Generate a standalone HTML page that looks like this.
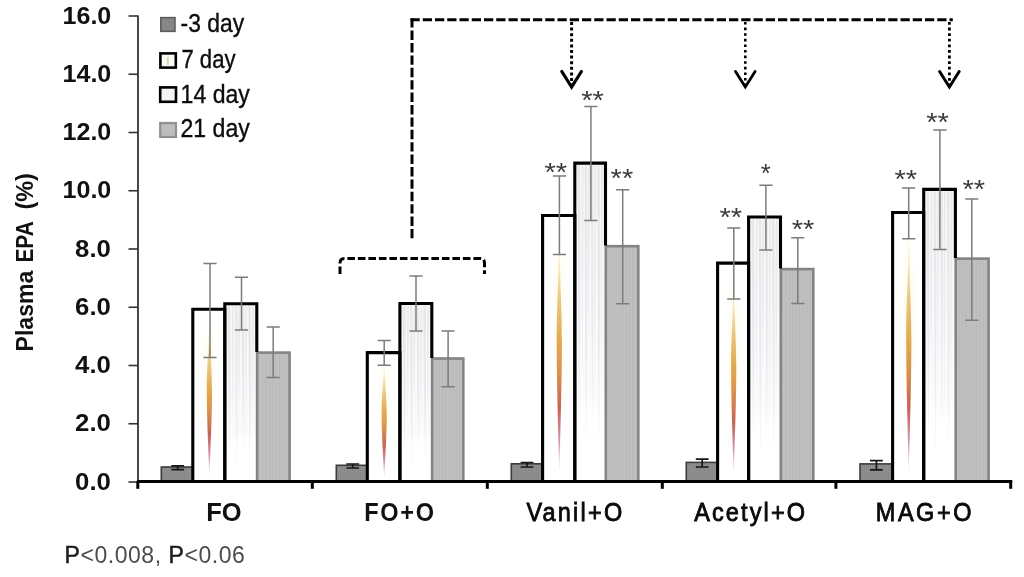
<!DOCTYPE html>
<html><head><meta charset="utf-8"><title>Plasma EPA chart</title>
<style>html,body{margin:0;padding:0;background:#fff;}body{width:1024px;height:577px;overflow:hidden;position:relative;font-family:"Liberation Sans", sans-serif;}svg{position:absolute;left:0;top:0;display:block;filter:blur(0.45px);}text{font-family:"Liberation Sans", sans-serif;}</style>
</head><body>
<svg width="1024" height="577" viewBox="0 0 1024 577">
<defs>
<linearGradient id="flame" x1="0" y1="0" x2="0" y2="1"><stop offset="0" stop-color="#fbefc8" stop-opacity="0"/><stop offset="0.10" stop-color="#f6e2a8" stop-opacity="0.5"/><stop offset="0.28" stop-color="#e6c070" stop-opacity="0.85"/><stop offset="0.45" stop-color="#dfa548" stop-opacity="0.95"/><stop offset="0.58" stop-color="#d68c46" stop-opacity="0.95"/><stop offset="0.72" stop-color="#c45a4c" stop-opacity="0.95"/><stop offset="0.85" stop-color="#c0607a" stop-opacity="0.7"/><stop offset="0.95" stop-color="#c890a8" stop-opacity="0.35"/><stop offset="1" stop-color="#d8b0c0" stop-opacity="0"/></linearGradient>
<filter id="soft" x="-50%" y="-5%" width="200%" height="110%"><feGaussianBlur stdDeviation="0.55"/></filter>
<linearGradient id="glow" x1="0" y1="0" x2="0" y2="1"><stop offset="0" stop-color="#fff6cc" stop-opacity="0"/><stop offset="0.3" stop-color="#fff3c4" stop-opacity="0.2"/><stop offset="0.8" stop-color="#ffefc0" stop-opacity="0.18"/><stop offset="1" stop-color="#ffe8c0" stop-opacity="0"/></linearGradient>
<filter id="soft3" x="-50%" y="-5%" width="200%" height="110%"><feGaussianBlur stdDeviation="1.8 3"/></filter>
<filter id="soft2" x="-20%" y="-5%" width="140%" height="110%"><feGaussianBlur stdDeviation="0.7 1.5"/></filter>
<linearGradient id="streak" x1="0" y1="0" x2="0" y2="1"><stop offset="0" stop-color="#c9c9ce" stop-opacity="0.85"/><stop offset="0.6" stop-color="#cdcfd8" stop-opacity="0.8"/><stop offset="0.9" stop-color="#d0d4e0" stop-opacity="0.6"/><stop offset="1" stop-color="#dce0ea" stop-opacity="0"/></linearGradient>
<pattern id="vlines" width="3.4" height="8" patternUnits="userSpaceOnUse"><rect width="3.4" height="8" fill="#c0c0c0"/><rect x="0" width="1" height="8" fill="#b8b8b8"/></pattern>
<pattern id="dots" width="2" height="2" patternUnits="userSpaceOnUse"><rect width="2" height="2" fill="#8e8e8e"/><rect width="1" height="1" fill="#828282"/></pattern>
</defs>
<rect width="1024" height="577" fill="#ffffff"/>
<rect x="161.3" y="467.0" width="31.5" height="14.4" fill="url(#dots)" stroke="#3c3c3c" stroke-width="1.6"/>
<rect x="192.8" y="309.3" width="32.0" height="172.1" fill="#ffffff"/>
<rect x="203.9" y="317.9" width="11" height="106.7" rx="5" fill="url(#glow)" filter="url(#soft3)"/>
<path d="M209.4 317.9 C208.6 354.1 206.8 368.5 206.8 390.2 C206.8 421.2 208.6 452.3 209.4 478.9 C210.2 452.3 212.0 421.2 212.0 390.2 C212.0 368.5 210.2 354.1 209.4 317.9 Z" fill="url(#flame)" filter="url(#soft)"/>
<rect x="224.8" y="303.7" width="32.0" height="177.8" fill="#ffffff"/>
<rect x="224.8" y="303.7" width="32.0" height="142.2" fill="url(#streak)" opacity="0.16"/>
<g filter="url(#soft2)">
<path d="M227.6 305.2 L230.2 305.2 Q231.0 392.4 229.3 463.7 Q228.4 392.4 227.6 305.2 Z" fill="url(#streak)" opacity="0.42"/>
<path d="M232.1 305.2 L233.9 305.2 Q233.3 372.8 232.7 428.1 Q231.5 372.8 232.1 305.2 Z" fill="url(#streak)" opacity="0.36"/>
<path d="M235.1 305.2 L237.5 305.2 Q238.0 398.2 236.5 474.3 Q235.6 398.2 235.1 305.2 Z" fill="url(#streak)" opacity="0.42"/>
<path d="M238.8 305.2 L240.4 305.2 Q239.7 365.0 239.3 413.9 Q238.1 365.0 238.8 305.2 Z" fill="url(#streak)" opacity="0.45"/>
<path d="M241.7 305.2 L243.9 305.2 Q244.5 390.4 243.1 460.1 Q242.3 390.4 241.7 305.2 Z" fill="url(#streak)" opacity="0.45"/>
<path d="M245.2 305.2 L247.0 305.2 Q246.5 380.6 245.9 442.3 Q244.7 380.6 245.2 305.2 Z" fill="url(#streak)" opacity="0.36"/>
<path d="M248.2 305.2 L250.8 305.2 Q251.5 396.3 249.8 470.8 Q248.9 396.3 248.2 305.2 Z" fill="url(#streak)" opacity="0.42"/>
<path d="M252.1 305.2 L253.9 305.2 Q253.3 374.8 252.7 431.7 Q251.5 374.8 252.1 305.2 Z" fill="url(#streak)" opacity="0.36"/>
</g>
<rect x="257.1" y="352.6" width="32.5" height="128.8" fill="url(#vlines)" stroke="#848484" stroke-width="2.6"/>
<path d="M192.8 481.4 V309.3 H224.8 V481.4" fill="none" stroke="#000" stroke-width="3.1"/>
<path d="M224.8 481.4 V303.7 H256.8 V352.0" fill="none" stroke="#000" stroke-width="3.1"/>
<rect x="336.3" y="465.3" width="31.0" height="16.1" fill="url(#dots)" stroke="#3c3c3c" stroke-width="1.6"/>
<rect x="367.3" y="352.6" width="32.6" height="128.8" fill="#ffffff"/>
<rect x="378.7" y="359.0" width="11" height="79.9" rx="5" fill="url(#glow)" filter="url(#soft3)"/>
<path d="M384.2 359.0 C383.4 386.1 381.6 396.9 381.6 413.2 C381.6 436.4 383.4 459.6 384.2 479.5 C385.0 459.6 386.8 436.4 386.8 413.2 C386.8 396.9 385.0 386.1 384.2 359.0 Z" fill="url(#flame)" filter="url(#soft)"/>
<rect x="399.9" y="303.5" width="31.9" height="177.9" fill="#ffffff"/>
<rect x="399.9" y="303.5" width="31.9" height="142.4" fill="url(#streak)" opacity="0.16"/>
<g filter="url(#soft2)">
<path d="M402.7 305.0 L405.3 305.0 Q406.1 392.3 404.4 463.7 Q403.5 392.3 402.7 305.0 Z" fill="url(#streak)" opacity="0.42"/>
<path d="M407.2 305.0 L409.0 305.0 Q408.4 372.7 407.8 428.1 Q406.6 372.7 407.2 305.0 Z" fill="url(#streak)" opacity="0.36"/>
<path d="M410.1 305.0 L412.5 305.0 Q413.0 398.1 411.6 474.3 Q410.6 398.1 410.1 305.0 Z" fill="url(#streak)" opacity="0.42"/>
<path d="M413.9 305.0 L415.5 305.0 Q414.8 364.9 414.3 413.8 Q413.2 364.9 413.9 305.0 Z" fill="url(#streak)" opacity="0.45"/>
<path d="M416.7 305.0 L418.9 305.0 Q419.5 390.3 418.1 460.1 Q417.3 390.3 416.7 305.0 Z" fill="url(#streak)" opacity="0.45"/>
<path d="M420.3 305.0 L422.1 305.0 Q421.6 380.5 420.9 442.3 Q419.8 380.5 420.3 305.0 Z" fill="url(#streak)" opacity="0.36"/>
<path d="M423.2 305.0 L425.8 305.0 Q426.5 396.2 424.9 470.8 Q423.9 396.2 423.2 305.0 Z" fill="url(#streak)" opacity="0.42"/>
<path d="M427.2 305.0 L429.0 305.0 Q428.4 374.6 427.8 431.6 Q426.6 374.6 427.2 305.0 Z" fill="url(#streak)" opacity="0.36"/>
</g>
<rect x="432.1" y="358.5" width="31.2" height="122.9" fill="url(#vlines)" stroke="#848484" stroke-width="2.6"/>
<path d="M367.3 481.4 V352.6 H399.9 V481.4" fill="none" stroke="#000" stroke-width="3.1"/>
<path d="M399.9 481.4 V303.5 H431.8 V357.9" fill="none" stroke="#000" stroke-width="3.1"/>
<rect x="511.3" y="463.8" width="31.3" height="17.6" fill="url(#dots)" stroke="#3c3c3c" stroke-width="1.6"/>
<rect x="542.6" y="215.5" width="32.2" height="265.9" fill="#ffffff"/>
<rect x="553.8" y="228.8" width="11" height="164.9" rx="5" fill="url(#glow)" filter="url(#soft3)"/>
<path d="M559.3 228.8 C558.5 284.6 556.7 307.0 556.7 340.5 C556.7 388.4 558.5 436.4 559.3 477.5 C560.1 436.4 561.9 388.4 561.9 340.5 C561.9 307.0 560.1 284.6 559.3 228.8 Z" fill="url(#flame)" filter="url(#soft)"/>
<rect x="574.8" y="163.1" width="30.7" height="318.4" fill="#ffffff"/>
<rect x="574.8" y="163.1" width="30.7" height="254.7" fill="url(#streak)" opacity="0.16"/>
<g filter="url(#soft2)">
<path d="M577.5 164.6 L580.1 164.6 Q580.9 321.4 579.2 449.6 Q578.3 321.4 577.5 164.6 Z" fill="url(#streak)" opacity="0.42"/>
<path d="M581.8 164.6 L583.6 164.6 Q583.0 286.3 582.4 385.9 Q581.2 286.3 581.8 164.6 Z" fill="url(#streak)" opacity="0.36"/>
<path d="M584.6 164.6 L587.0 164.6 Q587.5 331.9 586.0 468.7 Q585.1 331.9 584.6 164.6 Z" fill="url(#streak)" opacity="0.42"/>
<path d="M588.2 164.6 L589.8 164.6 Q589.1 272.3 588.7 360.5 Q587.5 272.3 588.2 164.6 Z" fill="url(#streak)" opacity="0.45"/>
<path d="M590.9 164.6 L593.1 164.6 Q593.7 317.9 592.3 443.2 Q591.5 317.9 590.9 164.6 Z" fill="url(#streak)" opacity="0.45"/>
<path d="M594.4 164.6 L596.2 164.6 Q595.7 300.3 595.0 411.4 Q593.9 300.3 594.4 164.6 Z" fill="url(#streak)" opacity="0.36"/>
<path d="M597.2 164.6 L599.8 164.6 Q600.5 328.4 598.8 462.3 Q597.9 328.4 597.2 164.6 Z" fill="url(#streak)" opacity="0.42"/>
<path d="M601.0 164.6 L602.8 164.6 Q602.2 289.8 601.6 392.3 Q600.4 289.8 601.0 164.6 Z" fill="url(#streak)" opacity="0.36"/>
</g>
<rect x="605.8" y="246.2" width="32.5" height="235.2" fill="url(#vlines)" stroke="#848484" stroke-width="2.6"/>
<path d="M542.6 481.4 V215.5 H574.8 V481.4" fill="none" stroke="#000" stroke-width="3.1"/>
<path d="M574.8 481.4 V163.1 H605.5 V245.6" fill="none" stroke="#000" stroke-width="3.1"/>
<rect x="686.3" y="462.4" width="31.3" height="19.1" fill="url(#dots)" stroke="#3c3c3c" stroke-width="1.6"/>
<rect x="717.6" y="263.1" width="31.0" height="218.3" fill="#ffffff"/>
<rect x="728.2" y="274.0" width="11" height="135.4" rx="5" fill="url(#glow)" filter="url(#soft3)"/>
<path d="M733.7 274.0 C732.9 319.9 731.1 338.2 731.1 365.7 C731.1 405.1 732.9 444.4 733.7 478.2 C734.5 444.4 736.3 405.1 736.3 365.7 C736.3 338.2 734.5 319.9 733.7 274.0 Z" fill="url(#flame)" filter="url(#soft)"/>
<rect x="748.6" y="217.0" width="31.9" height="264.4" fill="#ffffff"/>
<rect x="748.6" y="217.0" width="31.9" height="211.6" fill="url(#streak)" opacity="0.16"/>
<g filter="url(#soft2)">
<path d="M751.4 218.5 L754.0 218.5 Q754.8 348.6 753.1 455.0 Q752.2 348.6 751.4 218.5 Z" fill="url(#streak)" opacity="0.42"/>
<path d="M755.9 218.5 L757.7 218.5 Q757.1 319.5 756.5 402.1 Q755.3 319.5 755.9 218.5 Z" fill="url(#streak)" opacity="0.36"/>
<path d="M758.8 218.5 L761.2 218.5 Q761.7 357.3 760.3 470.9 Q759.3 357.3 758.8 218.5 Z" fill="url(#streak)" opacity="0.42"/>
<path d="M762.6 218.5 L764.2 218.5 Q763.5 307.9 763.0 381.0 Q761.9 307.9 762.6 218.5 Z" fill="url(#streak)" opacity="0.45"/>
<path d="M765.4 218.5 L767.6 218.5 Q768.2 345.7 766.8 449.7 Q766.0 345.7 765.4 218.5 Z" fill="url(#streak)" opacity="0.45"/>
<path d="M769.0 218.5 L770.8 218.5 Q770.3 331.1 769.6 423.3 Q768.5 331.1 769.0 218.5 Z" fill="url(#streak)" opacity="0.36"/>
<path d="M771.9 218.5 L774.5 218.5 Q775.2 354.4 773.6 465.6 Q772.6 354.4 771.9 218.5 Z" fill="url(#streak)" opacity="0.42"/>
<path d="M775.9 218.5 L777.7 218.5 Q777.1 322.4 776.5 407.4 Q775.3 322.4 775.9 218.5 Z" fill="url(#streak)" opacity="0.36"/>
</g>
<rect x="780.8" y="269.1" width="32.5" height="212.3" fill="url(#vlines)" stroke="#848484" stroke-width="2.6"/>
<path d="M717.6 481.4 V263.1 H748.6 V481.4" fill="none" stroke="#000" stroke-width="3.1"/>
<path d="M748.6 481.4 V217.0 H780.5 V268.5" fill="none" stroke="#000" stroke-width="3.1"/>
<rect x="860.0" y="463.9" width="32.6" height="17.6" fill="url(#dots)" stroke="#3c3c3c" stroke-width="1.6"/>
<rect x="892.6" y="212.5" width="31.1" height="268.9" fill="#ffffff"/>
<rect x="903.3" y="225.9" width="11" height="166.7" rx="5" fill="url(#glow)" filter="url(#soft3)"/>
<path d="M908.8 225.9 C908.0 282.4 906.2 305.0 906.2 338.9 C906.2 387.4 908.0 435.9 908.8 477.4 C909.6 435.9 911.4 387.4 911.4 338.9 C911.4 305.0 909.6 282.4 908.8 225.9 Z" fill="url(#flame)" filter="url(#soft)"/>
<rect x="923.7" y="189.4" width="31.7" height="292.0" fill="#ffffff"/>
<rect x="923.7" y="189.4" width="31.7" height="233.6" fill="url(#streak)" opacity="0.16"/>
<g filter="url(#soft2)">
<path d="M926.5 190.9 L929.1 190.9 Q929.9 334.6 928.2 452.2 Q927.3 334.6 926.5 190.9 Z" fill="url(#streak)" opacity="0.42"/>
<path d="M930.9 190.9 L932.7 190.9 Q932.1 302.5 931.5 393.8 Q930.3 302.5 930.9 190.9 Z" fill="url(#streak)" opacity="0.36"/>
<path d="M933.8 190.9 L936.2 190.9 Q936.7 344.3 935.3 469.8 Q934.3 344.3 933.8 190.9 Z" fill="url(#streak)" opacity="0.42"/>
<path d="M937.6 190.9 L939.2 190.9 Q938.5 289.7 938.0 370.5 Q936.9 289.7 937.6 190.9 Z" fill="url(#streak)" opacity="0.45"/>
<path d="M940.4 190.9 L942.6 190.9 Q943.2 331.4 941.8 446.4 Q941.0 331.4 940.4 190.9 Z" fill="url(#streak)" opacity="0.45"/>
<path d="M943.9 190.9 L945.7 190.9 Q945.2 315.4 944.6 417.2 Q943.4 315.4 943.9 190.9 Z" fill="url(#streak)" opacity="0.36"/>
<path d="M946.9 190.9 L949.5 190.9 Q950.2 341.1 948.5 463.9 Q947.6 341.1 946.9 190.9 Z" fill="url(#streak)" opacity="0.42"/>
<path d="M950.8 190.9 L952.6 190.9 Q952.0 305.7 951.4 399.7 Q950.2 305.7 950.8 190.9 Z" fill="url(#streak)" opacity="0.36"/>
</g>
<rect x="955.7" y="258.6" width="32.9" height="222.8" fill="url(#vlines)" stroke="#848484" stroke-width="2.6"/>
<path d="M892.6 481.4 V212.5 H923.7 V481.4" fill="none" stroke="#000" stroke-width="3.1"/>
<path d="M923.7 481.4 V189.4 H955.4 V258.0" fill="none" stroke="#000" stroke-width="3.1"/>
<path d="M171.3 465.8 H184.1 M177.7 465.8 V469.7 M171.3 469.7 H184.1" fill="none" stroke="#161616" stroke-width="1.7"/>
<path d="M203.4 263.5 H216.6 M210.0 263.5 V357.5 M203.4 357.5 H216.6" fill="none" stroke="#7c7c7c" stroke-width="1.5"/>
<path d="M234.9 277.3 H248.1 M241.5 277.3 V329.9 M234.9 329.9 H248.1" fill="none" stroke="#7c7c7c" stroke-width="1.5"/>
<path d="M266.6 327.0 H279.8 M273.2 327.0 V377.5 M266.6 377.5 H279.8" fill="none" stroke="#7c7c7c" stroke-width="1.5"/>
<path d="M346.3 464.0 H359.1 M352.7 464.0 V468.0 M346.3 468.0 H359.1" fill="none" stroke="#161616" stroke-width="1.7"/>
<path d="M377.6 340.5 H390.8 M384.2 340.5 V365.3 M377.6 365.3 H390.8" fill="none" stroke="#7c7c7c" stroke-width="1.5"/>
<path d="M409.4 276.0 H422.6 M416.0 276.0 V331.1 M409.4 331.1 H422.6" fill="none" stroke="#7c7c7c" stroke-width="1.5"/>
<path d="M441.5 331.1 H454.7 M448.1 331.1 V386.8 M441.5 386.8 H454.7" fill="none" stroke="#7c7c7c" stroke-width="1.5"/>
<path d="M520.6 462.5 H533.4 M527.0 462.5 V467.0 M520.6 467.0 H533.4" fill="none" stroke="#161616" stroke-width="1.7"/>
<path d="M552.8 175.9 H566.0 M559.4 175.9 V254.6 M552.8 254.6 H566.0" fill="none" stroke="#7c7c7c" stroke-width="1.5"/>
<path d="M584.3 106.4 H597.5 M590.9 106.4 V220.5 M584.3 220.5 H597.5" fill="none" stroke="#7c7c7c" stroke-width="1.5"/>
<path d="M616.1 189.7 H629.3 M622.7 189.7 V303.7 M616.1 303.7 H629.3" fill="none" stroke="#7c7c7c" stroke-width="1.5"/>
<path d="M695.8 459.1 H708.6 M702.2 459.1 V467.0 M695.8 467.0 H708.6" fill="none" stroke="#161616" stroke-width="1.7"/>
<path d="M727.2 228.1 H740.4 M733.8 228.1 V298.9 M727.2 298.9 H740.4" fill="none" stroke="#7c7c7c" stroke-width="1.5"/>
<path d="M759.3 185.2 H772.5 M765.9 185.2 V250.0 M759.3 250.0 H772.5" fill="none" stroke="#7c7c7c" stroke-width="1.5"/>
<path d="M791.2 237.8 H804.4 M797.8 237.8 V303.5 M791.2 303.5 H804.4" fill="none" stroke="#7c7c7c" stroke-width="1.5"/>
<path d="M870.0 460.6 H882.8 M876.4 460.6 V469.9 M870.0 469.9 H882.8" fill="none" stroke="#161616" stroke-width="1.7"/>
<path d="M902.1 188.1 H915.3 M908.7 188.1 V238.8 M902.1 238.8 H915.3" fill="none" stroke="#7c7c7c" stroke-width="1.5"/>
<path d="M933.3 129.9 H946.5 M939.9 129.9 V249.4 M933.3 249.4 H946.5" fill="none" stroke="#7c7c7c" stroke-width="1.5"/>
<path d="M965.2 199.0 H978.4 M971.8 199.0 V320.3 M965.2 320.3 H978.4" fill="none" stroke="#7c7c7c" stroke-width="1.5"/>
<path d="M138 15.5 V482" fill="none" stroke="#333" stroke-width="1.8"/>
<path d="M128.5 16.00 H138" fill="none" stroke="#333" stroke-width="1.6"/>
<path d="M128.5 74.25 H138" fill="none" stroke="#333" stroke-width="1.6"/>
<path d="M128.5 132.50 H138" fill="none" stroke="#333" stroke-width="1.6"/>
<path d="M128.5 190.75 H138" fill="none" stroke="#333" stroke-width="1.6"/>
<path d="M128.5 249.00 H138" fill="none" stroke="#333" stroke-width="1.6"/>
<path d="M128.5 307.25 H138" fill="none" stroke="#333" stroke-width="1.6"/>
<path d="M128.5 365.50 H138" fill="none" stroke="#333" stroke-width="1.6"/>
<path d="M128.5 423.75 H138" fill="none" stroke="#333" stroke-width="1.6"/>
<path d="M128.5 482.00 H138" fill="none" stroke="#333" stroke-width="1.6"/>
<path d="M137 481.45 H1012.2" fill="none" stroke="#000" stroke-width="2.9"/>
<path d="M137.8 481 V488.8" fill="none" stroke="#000" stroke-width="3"/>
<path d="M312.3 481 V488.8" fill="none" stroke="#000" stroke-width="3"/>
<path d="M487.3 481 V488.8" fill="none" stroke="#000" stroke-width="3"/>
<path d="M662.3 481 V488.8" fill="none" stroke="#000" stroke-width="3"/>
<path d="M835.9 481 V488.8" fill="none" stroke="#000" stroke-width="3"/>
<path d="M1010.7 481 V488.8" fill="none" stroke="#000" stroke-width="3"/>
<path d="M410.5 19.7 H952.8" fill="none" stroke="#000" stroke-width="3" stroke-dasharray="9.25 3"/>
<path d="M412 18.2 V238.2" fill="none" stroke="#000" stroke-width="3" stroke-dasharray="9.4 3"/>
<path d="M340 274 V263 Q340 258.5 344.5 258.5 H480 Q484.5 258.5 484.5 263 V274" fill="none" stroke="#000" stroke-width="3" stroke-dasharray="7.6 2.9"/>
<path d="M571.6 22 V84" fill="none" stroke="#000" stroke-width="3.0" stroke-dasharray="3.0 2.6"/>
<path d="M561.8 71.5 L571.6 87 L581.4 71.5" fill="none" stroke="#000" stroke-width="3.2" stroke-linecap="round" stroke-linejoin="miter"/>
<path d="M745.3 22 V84" fill="none" stroke="#000" stroke-width="2.6" stroke-dasharray="2.6 3.0"/>
<path d="M735.5 71.5 L745.3 87 L755.1 71.5" fill="none" stroke="#000" stroke-width="2.8" stroke-linecap="round" stroke-linejoin="miter"/>
<path d="M949.4 22 V84" fill="none" stroke="#000" stroke-width="2.8" stroke-dasharray="2.8 2.8"/>
<path d="M939.6 71.5 L949.4 87 L959.2 71.5" fill="none" stroke="#000" stroke-width="3.0" stroke-linecap="round" stroke-linejoin="miter"/>
<rect x="160.8" y="17.6" width="14.2" height="13.8" fill="#868686" stroke="#5a5a5a" stroke-width="1.5"/>
<rect x="160.4" y="53.4" width="15.4" height="14.2" fill="#fbfbf6" stroke="#000" stroke-width="2.6"/>
<rect x="167.2" y="57" width="1.4" height="8" fill="#c9b9a0" opacity="0.8"/>
<rect x="160.2" y="87.4" width="15.8" height="14.4" fill="#f4f4f4" stroke="#000" stroke-width="2.6"/>
<rect x="160.2" y="123" width="15.8" height="14" fill="#bdbdbd" stroke="#909090" stroke-width="2.2"/>
<text transform="translate(180.6 32.0)" font-size="25.0" fill="#0c0c0c" stroke="#0c0c0c" stroke-width="0.35" textLength="63.6" lengthAdjust="spacingAndGlyphs">-3 day</text>
<text transform="translate(181.4 67.6)" font-size="25.0" fill="#0c0c0c" stroke="#0c0c0c" stroke-width="0.35" textLength="54.2" lengthAdjust="spacingAndGlyphs">7 day</text>
<text transform="translate(180.6 103.0)" font-size="25.0" fill="#0c0c0c" stroke="#0c0c0c" stroke-width="0.35" textLength="69.2" lengthAdjust="spacingAndGlyphs">14 day</text>
<text transform="translate(180.4 136.9)" font-size="25.0" fill="#0c0c0c" stroke="#0c0c0c" stroke-width="0.35" textLength="69.4" lengthAdjust="spacingAndGlyphs">21 day</text>
<text transform="translate(62.5 23.6)" font-size="23.0" fill="#111" font-weight="bold" textLength="48.8" lengthAdjust="spacingAndGlyphs">16.0</text>
<text transform="translate(62.5 81.8)" font-size="23.0" fill="#111" font-weight="bold" textLength="48.8" lengthAdjust="spacingAndGlyphs">14.0</text>
<text transform="translate(62.5 140.1)" font-size="23.0" fill="#111" font-weight="bold" textLength="48.8" lengthAdjust="spacingAndGlyphs">12.0</text>
<text transform="translate(62.5 198.3)" font-size="23.0" fill="#111" font-weight="bold" textLength="48.8" lengthAdjust="spacingAndGlyphs">10.0</text>
<text transform="translate(75.1 256.6)" font-size="23.0" fill="#111" font-weight="bold" textLength="35.8" lengthAdjust="spacingAndGlyphs">8.0</text>
<text transform="translate(75.1 314.9)" font-size="23.0" fill="#111" font-weight="bold" textLength="35.8" lengthAdjust="spacingAndGlyphs">6.0</text>
<text transform="translate(75.1 373.1)" font-size="23.0" fill="#111" font-weight="bold" textLength="35.8" lengthAdjust="spacingAndGlyphs">4.0</text>
<text transform="translate(75.1 431.4)" font-size="23.0" fill="#111" font-weight="bold" textLength="35.8" lengthAdjust="spacingAndGlyphs">2.0</text>
<text transform="translate(75.1 489.6)" font-size="23.0" fill="#111" font-weight="bold" textLength="35.8" lengthAdjust="spacingAndGlyphs">0.0</text>
<text transform="translate(32.8 351.4) rotate(-90)" font-size="23.0" fill="#111" font-weight="bold" textLength="80.6" lengthAdjust="spacingAndGlyphs">Plasma</text>
<text transform="translate(32.8 262.6) rotate(-90)" font-size="23.0" fill="#111" font-weight="bold" textLength="41.3" lengthAdjust="spacingAndGlyphs">EPA</text>
<text transform="translate(32.8 209.6) rotate(-90)" font-size="23.0" fill="#111" font-weight="bold" textLength="36.4" lengthAdjust="spacingAndGlyphs">(%)</text>
<text transform="translate(206.2 521.4)" font-size="25.6" fill="#111" font-weight="bold" textLength="35.4" lengthAdjust="spacingAndGlyphs">FO</text>
<text transform="translate(364.2 521.4) scale(0.920 1)" font-size="25.6" fill="#111" font-weight="bold" textLength="75.9" lengthAdjust="spacing">FO+O</text>
<text transform="translate(526.4 521.0) scale(0.910 1)" font-size="25.8" fill="#0a0a0a" stroke="#0a0a0a" stroke-width="0.85" textLength="105.3" lengthAdjust="spacing">Vanil+O</text>
<text transform="translate(694.2 521.0) scale(0.910 1)" font-size="25.8" fill="#0a0a0a" stroke="#0a0a0a" stroke-width="0.85" textLength="121.8" lengthAdjust="spacing">Acetyl+O</text>
<text transform="translate(875.8 521.0) scale(0.910 1)" font-size="25.8" fill="#0a0a0a" stroke="#0a0a0a" stroke-width="0.85" textLength="105.1" lengthAdjust="spacing">MAG+O</text>
<text transform="translate(544.5 180.7)" font-size="25.0" fill="#3a3a3a" textLength="22.6" lengthAdjust="spacingAndGlyphs">**</text>
<text transform="translate(581.2 108.6)" font-size="25.0" fill="#3a3a3a" textLength="22.6" lengthAdjust="spacingAndGlyphs">**</text>
<text transform="translate(610.6 187.2)" font-size="25.0" fill="#3a3a3a" textLength="22.6" lengthAdjust="spacingAndGlyphs">**</text>
<text transform="translate(719.5 225.9)" font-size="25.0" fill="#3a3a3a" textLength="22.6" lengthAdjust="spacingAndGlyphs">**</text>
<text transform="translate(760.8 182.1)" font-size="25.0" fill="#3a3a3a" textLength="10.0" lengthAdjust="spacingAndGlyphs">*</text>
<text transform="translate(791.7 238.0)" font-size="25.0" fill="#3a3a3a" textLength="22.6" lengthAdjust="spacingAndGlyphs">**</text>
<text transform="translate(894.4 187.6)" font-size="25.0" fill="#3a3a3a" textLength="22.6" lengthAdjust="spacingAndGlyphs">**</text>
<text transform="translate(926.3 131.3)" font-size="25.0" fill="#3a3a3a" textLength="22.6" lengthAdjust="spacingAndGlyphs">**</text>
<text transform="translate(962.4 197.9)" font-size="25.0" fill="#3a3a3a" textLength="22.6" lengthAdjust="spacingAndGlyphs">**</text>
<text transform="translate(64.6 562.7) scale(1.000 1)" font-size="23.0" fill="#4c4c4c" textLength="180.2" lengthAdjust="spacing"><tspan fill="#1c1c1c" stroke="#1c1c1c" stroke-width="0.5">P</tspan>&lt;0.008, <tspan fill="#1c1c1c" stroke="#1c1c1c" stroke-width="0.5">P</tspan>&lt;0.06</text>
</svg>
</body></html>
